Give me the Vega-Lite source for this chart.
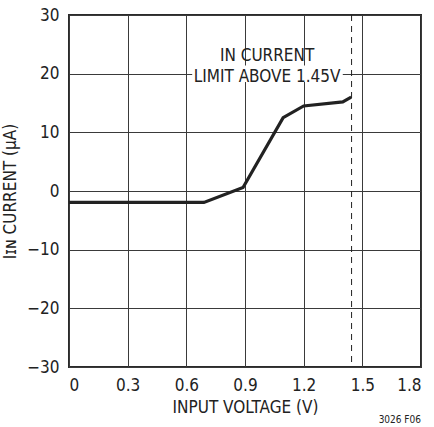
{
  "$schema": "https://vega.github.io/schema/vega-lite/v6.json",
  "width": 352,
  "height": 352,
  "autosize": {"type": "none"},
  "padding": {"left": 69, "top": 15, "right": 13, "bottom": 60},
  "background": "white",
  "config": {
    "font": "DejaVu Sans Condensed, Roboto, sans-serif",
    "view": {"stroke": "#2a2a2a", "strokeWidth": 2},
    "axis": {
      "grid": true,
      "gridColor": "#3a3a3a",
      "gridWidth": 1,
      "gridOpacity": 1,
      "domain": false,
      "ticks": false,
      "labelFont": "DejaVu Sans Condensed, Roboto, sans-serif",
      "labelFontSize": 17,
      "labelColor": "#222",
      "titleFont": "DejaVu Sans Condensed, Roboto, sans-serif",
      "titleFontSize": 17,
      "titleFontWeight": "normal",
      "titleColor": "#222"
    }
  },
  "title": {
    "text": "3026 F06",
    "orient": "bottom",
    "anchor": "end",
    "fontSize": 10,
    "fontWeight": "normal",
    "font": "DejaVu Sans Condensed, Roboto, sans-serif",
    "color": "#222",
    "offset": 0
  },
  "datasets": {
    "curve": [
      {"v": 0.0, "i": -1.95},
      {"v": 0.69, "i": -1.95},
      {"v": 0.89, "i": 0.6},
      {"v": 1.095, "i": 12.5},
      {"v": 1.2, "i": 14.5},
      {"v": 1.4, "i": 15.2},
      {"v": 1.443, "i": 16.0}
    ],
    "limit": [{"v": 1.445}],
    "box": [{"x1": 0.63, "x2": 1.4, "y1": 18.6, "y2": 21.4}],
    "notes": [
      {"v": 1.013, "i": 23.0, "t": "IN CURRENT"},
      {"v": 1.013, "i": 19.5, "t": "LIMIT ABOVE 1.45V"}
    ]
  },
  "layer": [
    {
      "data": {"name": "curve"},
      "mark": {"type": "line", "color": "#222", "strokeWidth": 3.2, "strokeJoin": "miter"},
      "encoding": {
        "x": {
          "field": "v",
          "type": "quantitative",
          "scale": {"domain": [0, 1.8], "nice": false},
          "axis": {
            "title": "INPUT VOLTAGE (V)",
            "values": [0, 0.3, 0.6, 0.9, 1.2, 1.5, 1.8],
            "labelExpr": "datum.value == 0 ? '0' : format(datum.value, '.1f')",
            "labelPadding": 10,
            "titlePadding": 6
          }
        },
        "y": {
          "field": "i",
          "type": "quantitative",
          "scale": {"domain": [-30, 30], "nice": false},
          "axis": {
            "title": "Iɪɴ CURRENT (µA)",
            "values": [-30, -20, -10, 0, 10, 20, 30],
            "labelPadding": 10,
            "titlePadding": 7
          }
        }
      }
    },
    {
      "data": {"name": "limit"},
      "mark": {"type": "rule", "color": "#222", "strokeWidth": 1, "strokeDash": [6, 5]},
      "encoding": {"x": {"field": "v", "type": "quantitative"}}
    },
    {
      "data": {"name": "box"},
      "mark": {"type": "rect", "color": "white", "opacity": 1},
      "encoding": {
        "x": {"field": "x1", "type": "quantitative"},
        "x2": {"field": "x2"},
        "y": {"field": "y1", "type": "quantitative"},
        "y2": {"field": "y2"}
      }
    },
    {
      "data": {"name": "notes"},
      "mark": {"type": "text", "fontSize": 17, "color": "#222", "align": "center", "baseline": "middle", "font": "DejaVu Sans Condensed, Roboto, sans-serif"},
      "encoding": {
        "x": {"field": "v", "type": "quantitative"},
        "y": {"field": "i", "type": "quantitative"},
        "text": {"field": "t"}
      }
    }
  ]
}
